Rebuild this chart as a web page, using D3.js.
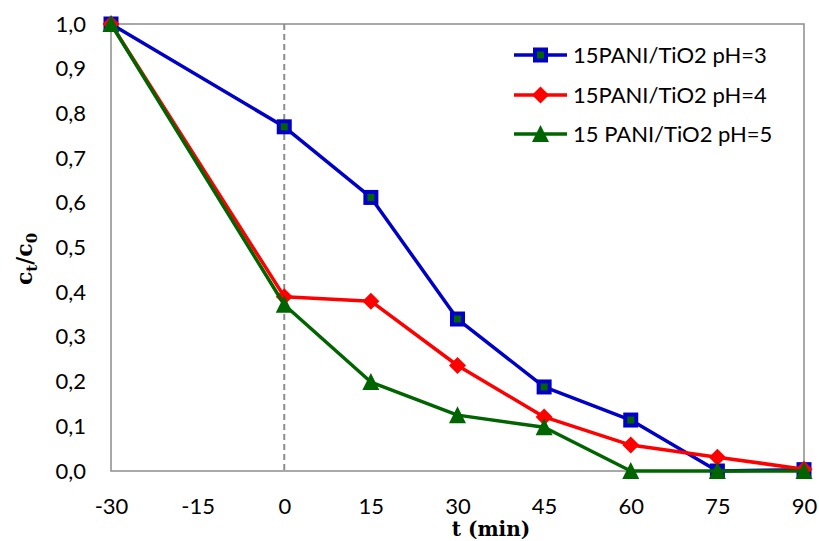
<!DOCTYPE html>
<html><head><meta charset="utf-8">
<script src="https://cdn.jsdelivr.net/npm/d3@7"></script>
<style>body{margin:0;background:#fff}svg{display:block}</style>
</head><body>
<svg id="c" width="819" height="541"></svg>
<script>
const times = [-30, 0, 15, 30, 45, 60, 75, 90];
const ph3 = [1.0, 0.770, 0.612, 0.340, 0.188, 0.114, 0.0, 0.003];
const ph4 = [1.0, 0.390, 0.380, 0.236, 0.121, 0.058, 0.031, 0.004];
const ph5 = [1.0, 0.372, 0.199, 0.125, 0.098, 0.0, 0.0, 0.0];
const seriesNames = ["15PANI/TiO2 pH=3", "15PANI/TiO2 pH=4", "15 PANI/TiO2 pH=5"];
const xTicks = [-30, -15, 0, 15, 30, 45, 60, 75, 90];
const yTicks = [0, 0.1, 0.2, 0.3, 0.4, 0.5, 0.6, 0.7, 0.8, 0.9, 1.0];

const svg = d3.select("#c");
const L = 111, R = 804, T = 24, B = 471;
const x = d3.scaleLinear().domain([-30, 90]).range([L, R]);
const y = d3.scaleLinear().domain([0, 1]).range([B, T]);
const font = "Lato, 'Open Sans', sans-serif";
const serif = "'DejaVu Serif', 'Liberation Serif', serif";
const frame = "#8c8c8c";

// frame
svg.append("rect").attr("x", L).attr("y", T).attr("width", R - L).attr("height", B - T)
  .attr("fill", "none").attr("stroke", frame).attr("stroke-width", 1.5);

// axes (labels only)
const xa = svg.append("g").attr("transform", `translate(0,${B})`)
  .call(d3.axisBottom(x).tickValues(xTicks).tickSize(0).tickPadding(27).tickFormat(d => String(d)));
xa.select(".domain").remove();
xa.selectAll("text").attr("font-family", font).attr("font-size", 22).attr("fill", "#000");

const ya = svg.append("g").attr("transform", `translate(${L},0)`)
  .call(d3.axisLeft(y).tickValues(yTicks).tickSize(0).tickPadding(25).tickFormat(d => d.toFixed(1).replace(".", ",")));
ya.select(".domain").remove();
ya.selectAll("text").attr("font-family", font).attr("font-size", 22).attr("fill", "#000");

// dashed vertical at t=0
svg.append("line").attr("x1", x(0)).attr("x2", x(0)).attr("y1", T).attr("y2", B)
  .attr("stroke", "#8c8c8c").attr("stroke-width", 2).attr("stroke-dasharray", "6,4");

const series = [
  {name: seriesNames[0], vals: ph3, color: "#0000c8", marker: "square"},
  {name: seriesNames[1], vals: ph4, color: "#ff0000", marker: "diamond"},
  {name: seriesNames[2], vals: ph5, color: "#006400", marker: "triangle"}
];

function drawMarker(g, type, cx, cy) {
  if (type === "square") {
    g.append("rect").attr("x", cx - 5.5).attr("y", cy - 5.5).attr("width", 11).attr("height", 11)
      .attr("fill", "#006400").attr("stroke", "#0000c8").attr("stroke-width", 4);
  } else if (type === "diamond") {
    g.append("path").attr("d", `M${cx},${cy - 8.5}L${cx + 8.5},${cy}L${cx},${cy + 8.5}L${cx - 8.5},${cy}Z`)
      .attr("fill", "#ff0000");
  } else {
    g.append("path").attr("d", `M${cx},${cy - 9}L${cx + 8.5},${cy + 8}L${cx - 8.5},${cy + 8}Z`)
      .attr("fill", "#006400");
  }
}

const line = d3.line().x((d, i) => x(times[i])).y(d => y(d));
series.forEach(s => {
  const g = svg.append("g");
  g.append("path").datum(s.vals).attr("d", line).attr("fill", "none")
    .attr("stroke", s.color).attr("stroke-width", 3.5).attr("stroke-linejoin", "round");
  s.vals.forEach((v, i) => drawMarker(g, s.marker, x(times[i]), y(v)));
});

// legend
const legY = [55, 95, 134];
series.forEach((s, i) => {
  const g = svg.append("g");
  g.append("line").attr("x1", 514).attr("x2", 567).attr("y1", legY[i]).attr("y2", legY[i])
    .attr("stroke", s.color).attr("stroke-width", 3.5);
  drawMarker(g, s.marker, 540.5, legY[i]);
  g.append("text").attr("x", 573).attr("y", legY[i]).attr("dy", "0.36em")
    .attr("font-family", font).attr("font-size", 22).attr("fill", "#000").text(s.name);
});

// axis titles
svg.append("text").attr("x", 491).attr("y", 536).attr("text-anchor", "middle")
  .attr("font-family", serif).attr("font-weight", "bold")
  .attr("font-size", 20).text("t (min)");

const yt = svg.append("text").attr("transform", "translate(32,259) rotate(-90)")
  .attr("text-anchor", "middle")
  .attr("font-family", serif).attr("font-weight", "bold")
  .attr("font-size", 22);
yt.append("tspan").text("c");
yt.append("tspan").attr("font-size", 15).attr("dy", 5).text("t");
yt.append("tspan").attr("dy", -5).text("/c");
yt.append("tspan").attr("font-size", 15).attr("dy", 5).text("0");
</script>
</body></html>
